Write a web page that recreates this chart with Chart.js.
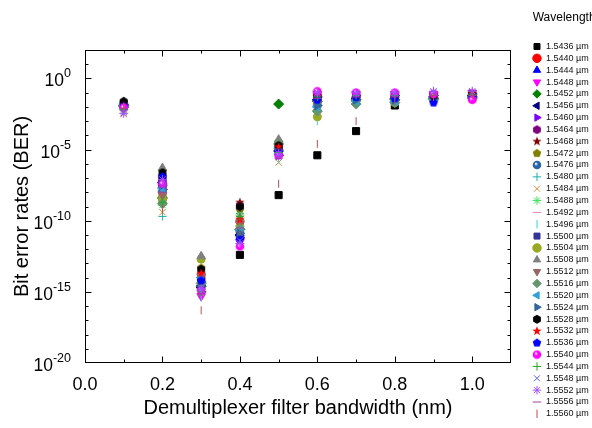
<!DOCTYPE html>
<html>
<head>
<meta charset="utf-8">
<script src="https://cdn.jsdelivr.net/npm/chart.js@4.4.1/dist/chart.umd.min.js"></script>
<style>
  html, body { margin: 0; padding: 0; background: #fff; }
  canvas { display: block; }
</style>
</head>
<body>
<canvas id="berChart" width="592" height="428"></canvas>
<script>
// filter bandwidths (nm) on the x axis
const bandwidths = [0.1, 0.2, 0.3, 0.4, 0.5, 0.6, 0.7, 0.8, 0.9, 1.0];

// channel wavelengths (um), one series each
const wavelengths = ['1.5436', '1.5440', '1.5444', '1.5448', '1.5452', '1.5456', '1.5460', '1.5464',
                     '1.5468', '1.5472', '1.5476', '1.5480', '1.5484', '1.5488', '1.5492', '1.5496',
                     '1.5500', '1.5504', '1.5508', '1.5512', '1.5516', '1.5520', '1.5524', '1.5528',
                     '1.5532', '1.5536', '1.5540', '1.5544', '1.5548', '1.5552', '1.5556', '1.5560'];

// log10(BER) per wavelength, one array per bandwidth
const logBer01 = [-1.8, -1.9, -1.85, -2.0, -1.9, -1.95, -2.0, -1.9, -1.85, -1.8, -1.9, -2.1, -2.5, -2.2, -2.0, -2.0,
                  -1.95, -1.85, -1.65, -2.1, -1.9, -1.8, -1.85, -1.6, -1.9, -1.95, -2.05, -2.2, -2.35, -2.45, -2.1, -2.0];
const logBer02 = [-7.0, -7.6, -7.2, -8.7, -8.4, -7.3, -7.8, -8.0, -8.1, -8.3, -7.9, -9.7, -9.4, -8.9, -8.6, -9.0,
                  -7.4, -8.5, -6.3, -8.2, -8.8, -7.7, -7.5, -6.6, -7.0, -6.9, -7.4, -8.7, -7.6, -7.1, -8.0, -9.2];
const logBer03 = [-14.0, -13.8, -14.4, -15.3, -14.6, -14.7, -15.0, -14.2, -14.1, -13.3, -14.5, -14.9, -15.1, -14.8, -15.2, -15.4,
                  -14.6, -12.7, -12.5, -13.9, -14.4, -14.0, -14.3, -13.4, -13.7, -14.2, -14.9, -15.0, -14.7, -14.8, -15.2, -16.3];
const logBer04 = [-12.4, -10.1, -10.9, -11.5, -10.6, -11.0, -11.2, -8.9, -8.7, -9.2, -10.8, -9.5, -9.4, -9.6, -10.0, -10.3,
                  -11.1, -10.4, -9.8, -10.2, -10.6, -10.7, -10.9, -9.0, -9.9, -11.3, -11.8, -9.7, -11.4, -11.6, -10.5, -10.8];
const logBer05 = [-8.2, -5.0, -5.2, -5.3, -1.8, -5.1, -5.4, -4.7, -4.6, -4.5, -5.0, -5.5, -5.9, -5.3, -5.6, -5.7,
                  -4.9, -4.5, -4.3, -4.8, -4.6, -4.9, -5.1, -4.7, -4.8, -5.2, -5.4, -5.2, -5.5, -5.3, -5.6, -7.4];
const logBer06 = [-5.4, -1.2, -1.4, -1.1, -1.6, -1.5, -1.3, -1.2, -1.1, -1.8, -1.9, -2.0, -1.6, -1.7, -1.5, -3.0,
                  -1.4, -2.7, -2.1, -1.8, -2.3, -2.0, -1.9, -1.3, -1.2, -1.5, -0.9, -1.3, -1.1, -1.0, -1.4, -4.6];
const logBer07 = [-3.7, -1.3, -1.4, -1.1, -1.5, -1.4, -1.2, -1.3, -1.2, -1.5, -1.6, -1.4, -1.3, -1.5, -1.2, -1.6,
                  -1.3, -1.6, -1.4, -1.5, -1.8, -1.6, -1.5, -1.2, -1.1, -1.3, -1.0, -1.2, -1.1, -1.0, -1.3, -3.0];
const logBer08 = [-1.9, -1.3, -1.4, -1.1, -1.5, -1.4, -1.2, -1.3, -1.2, -1.6, -1.5, -1.4, -1.3, -1.5, -1.2, -1.6,
                  -1.3, -1.7, -1.4, -1.5, -1.7, -1.6, -1.5, -1.2, -1.1, -1.4, -1.0, -1.2, -1.1, -1.0, -1.3, -1.6];
const logBer09 = [-1.4, -1.2, -1.3, -1.1, -1.4, -1.3, -1.2, -1.2, -1.1, -1.4, -1.4, -1.3, -1.2, -1.3, -1.2, -1.4,
                  -1.3, -1.5, -1.3, -1.4, -1.5, -1.4, -1.4, -1.2, -1.1, -1.7, -1.1, -1.2, -1.0, -0.9, -1.2, -1.3];
const logBer10 = [-1.3, -1.2, -1.2, -1.0, -1.3, -1.2, -1.1, -1.2, -1.1, -1.3, -1.3, -1.2, -1.2, -1.3, -1.1, -1.3,
                  -1.2, -1.4, -1.2, -1.3, -1.4, -1.3, -1.3, -1.1, -1.0, -1.4, -1.5, -1.1, -1.0, -0.9, -1.2, -1.2];
const logBerByBandwidth = [logBer01, logBer02, logBer03, logBer04, logBer05, logBer06, logBer07, logBer08, logBer09, logBer10];

// axis ticks
const xTickValues = [0, 0.2, 0.4, 0.6, 0.8, 1.0];
const yTickExponents = [-20, -15, -10, -5, 0];

// marker look for each series (Origin style symbols)
const markers = [
  ['rect', '#000000'], ['circle', '#ff0000'], ['triUp', '#0000ff'], ['triDown', '#ff00ff'],
  ['diamond', '#008000'], ['triLeft', '#000080'], ['triRight', '#8000ff'], ['hexagon', '#800080'],
  ['star5', '#800000'], ['pentagon', '#808000'], ['ball', '#2a64a8'], ['plus', '#20b0b0'],
  ['x', '#d08a40'], ['asterisk', '#40e060'], ['hline', '#e080c0'], ['vline', '#40d0e0'],
  ['rect', '#333399'], ['circle', '#99aa22'], ['triUp', '#808080'], ['triDown', '#996666'],
  ['diamond', '#64966e'], ['triLeft', '#30a0d8'], ['triRight', '#336699'], ['hexagon', '#000000'],
  ['star5', '#ff0000'], ['pentagon', '#0000ff'], ['ball', '#ff00ff'], ['plus', '#22aa22'],
  ['x', '#6060d0'], ['asterisk', '#a050ff'], ['hline', '#a040a0'], ['vline', '#c05050']
];

function makeMarker(shape, color) {
  const c = document.createElement('canvas');
  c.width = 10; c.height = 10;
  const g = c.getContext('2d');
  g.fillStyle = color;
  if (shape === 'ball') {
    const grad = g.createRadialGradient(3.8, 3.6, 0.3, 5, 5, 4.5);
    grad.addColorStop(0, '#ffffff');
    grad.addColorStop(0.4, color);
    grad.addColorStop(1, color);
    g.fillStyle = grad;
    g.beginPath(); g.arc(5, 5, 4.3, 0, Math.PI * 2); g.fill();
    return c;
  }
  const n = shape === 'hexagon' ? 6 : shape === 'pentagon' ? 5 : 10;
  g.beginPath();
  for (let k = 0; k < n; k++) {
    const a = -Math.PI / 2 + k * 2 * Math.PI / n;
    const r = shape === 'star5' ? (k % 2 ? 2.0 : 4.9) : 4.5;
    const px = 5 + r * Math.cos(a), py = 5.2 + r * Math.sin(a);
    k ? g.lineTo(px, py) : g.moveTo(px, py);
  }
  g.closePath();
  g.fill();
  return c;
}

function pointStyleFor(shape, color) {
  switch (shape) {
    case 'rect': return { style: 'rect', rot: 0, r: 5 };
    case 'circle': return { style: 'circle', rot: 0, r: 4 };
    case 'triUp': return { style: 'triangle', rot: 0, r: 5 };
    case 'triDown': return { style: 'triangle', rot: 180, r: 5 };
    case 'triLeft': return { style: 'triangle', rot: -90, r: 5 };
    case 'triRight': return { style: 'triangle', rot: 90, r: 5 };
    case 'diamond': return { style: 'rectRot', rot: 0, r: 5 };
    case 'plus': return { style: 'cross', rot: 0, r: 4 };
    case 'x': return { style: 'crossRot', rot: 0, r: 4.5 };
    case 'asterisk': return { style: 'star', rot: 0, r: 4.5 };
    case 'hline': return { style: 'line', rot: 0, r: 4 };
    case 'vline': return { style: 'line', rot: 90, r: 4 };
    default: return { style: makeMarker(shape, color), rot: 0, r: 5 };
  }
}

const datasets = wavelengths.map((wl, i) => {
  const [shape, color] = markers[i];
  const ps = pointStyleFor(shape, color);
  return {
    label: wl + ' \u00b5m',
    data: bandwidths.map((b, j) => ({ x: b, y: Math.pow(10, logBerByBandwidth[j][i]) })),
    pointStyle: ps.style,
    pointRotation: ps.rot,
    pointRadius: ps.r,
    pointHoverRadius: ps.r,
    backgroundColor: color,
    borderColor: color,
    pointBackgroundColor: color,
    pointBorderColor: color,
    pointBorderWidth: 1,
    order: wavelengths.length - i   // later wavelengths drawn on top
  };
});

const FONT = "'Liberation Sans', Arial, sans-serif";

// frame with inward ticks on all four sides, plus 10^n labels with raised exponents
const framePlugin = {
  id: 'frame',
  afterDatasetsDraw(chart) {
    const { ctx, chartArea: a, scales: { x, y } } = chart;
    const L = Math.round(a.left) + 0.5, R = Math.round(a.right) - 0.5;
    const T = Math.round(a.top) + 0.5, B = Math.round(a.bottom) - 0.5;
    ctx.save();
    ctx.strokeStyle = '#000';
    ctx.lineWidth = 1;
    ctx.strokeRect(L, T, R - L, B - T);
    ctx.beginPath();
    for (let k = 1; k <= 10; k++) {
      const px = Math.round(x.getPixelForValue(k / 10)) + 0.5;
      const len = k % 2 === 0 ? 6 : 3;
      ctx.moveTo(px, B); ctx.lineTo(px, B - len);
      ctx.moveTo(px, T); ctx.lineTo(px, T + len);
    }
    for (let e = -19; e <= 1; e++) {
      const py = Math.round(y.getPixelForValue(Math.pow(10, e))) + 0.5;
      const len = e % 5 === 0 ? 6 : 3;
      ctx.moveTo(L, py); ctx.lineTo(L + len, py);
      ctx.moveTo(R, py); ctx.lineTo(R - len, py);
    }
    ctx.stroke();

    ctx.fillStyle = '#000';
    ctx.textAlign = 'right';
    ctx.textBaseline = 'alphabetic';
    const labelRight = a.left - 14;
    y.ticks.forEach((t) => {
      const py = y.getPixelForValue(t.value);
      const exp = String(Math.round(Math.log10(t.value)));
      ctx.font = '12.5px ' + FONT;
      ctx.fillText(exp, labelRight, py - 1);
      const w = ctx.measureText(exp).width;
      ctx.font = '17.5px ' + FONT;
      ctx.fillText('10', labelRight - w, py + 8);
    });
    ctx.restore();
  }
};

Chart.defaults.font.family = FONT;
Chart.defaults.color = '#000';

new Chart(document.getElementById('berChart'), {
  type: 'scatter',
  data: { datasets },
  options: {
    responsive: false,
    animation: false,
    events: [],
    layout: { padding: { left: 0, top: 0, bottom: 0, right: -6.7 } },
    plugins: {
      tooltip: { enabled: false },
      legend: {
        position: 'right',
        align: 'start',
        title: {
          display: true,
          text: 'Wavelength',
          position: 'center',
          color: '#000',
          font: { size: 12 },
          padding: { top: 11.5, bottom: 13.25 }
        },
        labels: {
          usePointStyle: true,
          boxWidth: 9,
          boxHeight: 6,
          padding: 2.85,
          color: '#111',
          font: { size: 9 },
          sort: (a, b) => a.datasetIndex - b.datasetIndex
        }
      }
    },
    scales: {
      x: {
        type: 'linear',
        position: 'bottom',
        min: 0,
        max: 1.1,
        afterBuildTicks: (s) => { s.ticks = xTickValues.map(v => ({ value: v })); },
        afterFit: (s) => { s.height = 65; },
        grid: { display: false },
        border: { display: false },
        ticks: {
          autoSkip: false,
          maxRotation: 0,
          padding: 3,
          font: { size: 18 },
          callback: (v) => Number(v).toFixed(1)
        },
        title: {
          display: true,
          text: 'Demultiplexer filter bandwidth (nm)',
          font: { size: 20 },
          padding: { top: 0, bottom: 8 }
        }
      },
      xTop: {
        type: 'linear',
        position: 'top',
        afterFit: (s) => { s.height = 50; },
        grid: { display: false },
        border: { display: false },
        ticks: { display: false }
      },
      y: {
        type: 'logarithmic',
        position: 'left',
        min: 1e-20,
        max: 1e2,
        afterBuildTicks: (s) => { s.ticks = yTickExponents.map(e => ({ value: Math.pow(10, e) })); },
        afterFit: (s) => { s.width = 85; },
        grid: { display: false },
        border: { display: false },
        ticks: { display: false },
        title: {
          display: true,
          text: 'Bit error rates (BER)',
          font: { size: 20 },
          padding: { top: 10, bottom: 0 }
        }
      },
      yRight: {
        type: 'linear',
        position: 'right',
        afterFit: (s) => { s.width = 18.65; },
        grid: { display: false },
        border: { display: false },
        ticks: { display: false }
      }
    }
  },
  plugins: [framePlugin]
});
</script>
</body>
</html>
